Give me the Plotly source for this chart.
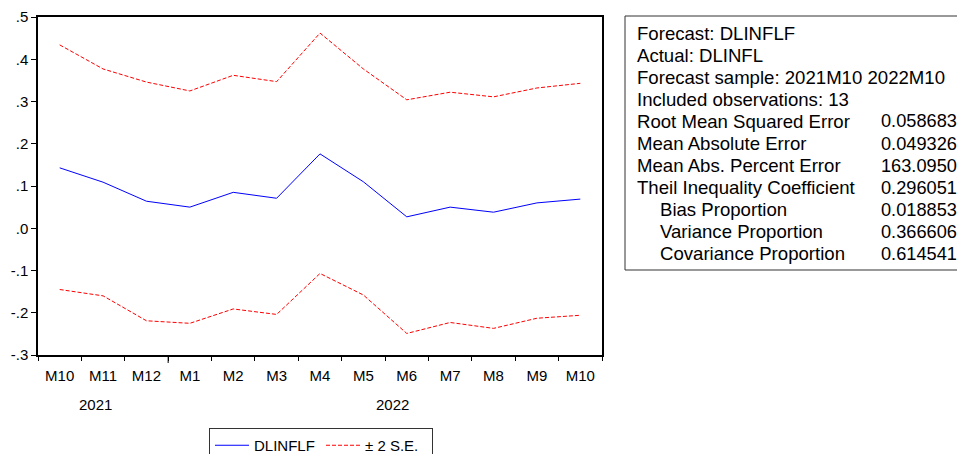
import plotly.graph_objects as go

# ---- data ----
periods = ["2021M10", "2021M11", "2021M12", "2022M1", "2022M2", "2022M3", "2022M4",
           "2022M5", "2022M6", "2022M7", "2022M8", "2022M9", "2022M10"]
month_labels = ["M10", "M11", "M12", "M1", "M2", "M3", "M4", "M5", "M6", "M7", "M8", "M9", "M10"]
forecast = [0.143, 0.109, 0.064, 0.050, 0.085, 0.071, 0.176, 0.110, 0.027, 0.050, 0.038, 0.060, 0.069]
upper_band = [0.434, 0.377, 0.346, 0.325, 0.362, 0.347, 0.462, 0.377, 0.304, 0.322, 0.311, 0.332, 0.343]
lower_band = [-0.145, -0.160, -0.219, -0.225, -0.191, -0.204, -0.107, -0.158, -0.249, -0.223, -0.237, -0.213, -0.206]
y_tickvals = [-0.3, -0.2, -0.1, 0.0, 0.1, 0.2, 0.3, 0.4, 0.5]
y_ticktext = ["-.3", "-.2", "-.1", ".0", ".1", ".2", ".3", ".4", ".5"]
year_labels = ["2021", "2022"]

header_lines = ["Forecast: DLINFLF", "Actual: DLINFL", "Forecast sample: 2021M10 2022M10",
                "Included observations: 13"]
stat_labels = ["Root Mean Squared Error", "Mean Absolute Error", "Mean Abs. Percent Error",
               "Theil Inequality Coefficient", "Bias Proportion", "Variance Proportion",
               "Covariance Proportion"]
stat_values = ["0.058683", "0.049326", "163.0950", "0.296051", "0.018853", "0.366606", "0.614541"]
stat_indented = [False, False, False, False, True, True, True]

# ---- layout geometry (screen pixels) ----
W, H = 957, 454
L, R, T, B = 38, 602, 17, 355
FONT = "Liberation Sans, Arial, sans-serif"


def px(x):
    return (x - L) / (R - L)


def py(y):
    return (B - y) / (B - T)


fig = go.Figure()
fig.add_trace(go.Scatter(x=periods, y=forecast, mode="lines", name="DLINFLF",
                         line=dict(color="#0000FF", width=1)))
fig.add_trace(go.Scatter(x=periods, y=upper_band, mode="lines", name="\u00b1 2 S.E.",
                         line=dict(color="#FF0000", width=1, dash="4px,2px")))
fig.add_trace(go.Scatter(x=periods, y=lower_band, mode="lines", name="\u00b1 2 S.E.",
                         showlegend=False,
                         line=dict(color="#FF0000", width=1, dash="4px,2px")))

annotations = []
# year labels
for xi, lab in zip([0.83, 7.67], year_labels):
    annotations.append(dict(x=xi, y=py(404), xref="x", yref="paper", text=lab,
                            showarrow=False, xanchor="center", yanchor="middle",
                            font=dict(size=15, color="black", family=FONT)))

# stats box text
BOX_FONT = 18.6
VAL_FONT = 18.2
line_y0 = 33
line_dy = 22.1
row = 0
for txt in header_lines:
    annotations.append(dict(x=px(635), y=py(line_y0 + row * line_dy), xref="paper", yref="paper",
                            text=txt, showarrow=False, xanchor="left", yanchor="middle",
                            font=dict(size=BOX_FONT, color="black", family=FONT)))
    row += 1
for lab, val, ind in zip(stat_labels, stat_values, stat_indented):
    yy = py(line_y0 + row * line_dy)
    annotations.append(dict(x=px(658 if ind else 635), y=yy, xref="paper", yref="paper",
                            text=lab, showarrow=False, xanchor="left", yanchor="middle",
                            font=dict(size=BOX_FONT, color="black", family=FONT)))
    annotations.append(dict(x=px(878.5), y=yy, xref="paper", yref="paper",
                            text=val, showarrow=False, xanchor="left", yanchor="middle",
                            font=dict(size=VAL_FONT, color="black", family=FONT)))
    row += 1

shapes = [
    dict(type="rect", xref="paper", yref="paper", x0=px(625), x1=px(1000), y0=py(270), y1=py(16),
         line=dict(color="#333333", width=1), fillcolor="rgba(0,0,0,0)"),
    # longer tick at the year boundary
    dict(type="line", xref="x", yref="paper", x0=2.5, x1=2.5, y0=py(355), y1=py(363),
         line=dict(color="black", width=1)),
]

fig.update_layout(
    width=W, height=H,
    margin=dict(l=L, r=W - R, t=T, b=H - B, pad=0, autoexpand=False),
    paper_bgcolor="white", plot_bgcolor="white",
    font=dict(family=FONT, size=15, color="black"),
    showlegend=True,
    legend=dict(orientation="h", x=px(209), y=py(428), xanchor="left", yanchor="top",
                bordercolor="#333333", borderwidth=1, bgcolor="white",
                font=dict(size=15, family=FONT, color="black"),
                itemwidth=34, entrywidth=62, entrywidthmode="pixels", tracegroupgap=0),
    annotations=annotations,
    shapes=shapes,
)
fig.update_xaxes(type="category", range=[-0.5, 12.5], tickmode="array", tickvals=periods,
                 ticktext=month_labels, tickson="boundaries", ticks="outside", ticklen=4,
                 tickcolor="black", showline=True, linecolor="black", linewidth=1.5,
                 mirror=True, showgrid=False, zeroline=False, ticklabelstandoff=6,
                 tickfont=dict(size=15, family=FONT, color="black"))
fig.update_yaxes(range=[-0.3, 0.5], tickmode="array", tickvals=y_tickvals, ticktext=y_ticktext,
                 ticks="outside", ticklen=5, tickcolor="black", showline=True,
                 linecolor="black", linewidth=1.5, mirror=True, showgrid=False, zeroline=False,
                 tickfont=dict(size=15, family=FONT, color="black"))

fig.write_html("out.html",
               config={"displayModeBar": False},
               post_script="document.body.style.margin='0';"
                           "document.documentElement.style.overflow='hidden';"
                           "document.body.style.overflow='hidden';")
